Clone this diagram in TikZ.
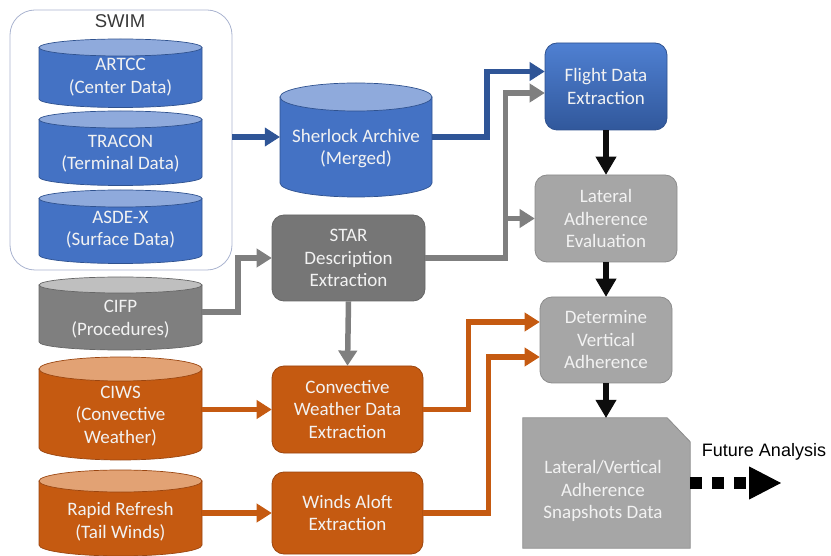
\documentclass[tikz,border=0pt]{standalone}
\usepackage{fontspec}
\setmainfont{Carlito}
\newfontfamily\arialfont{Liberation Sans}
\usetikzlibrary{arrows.meta,calc}

\definecolor{bluebody}{HTML}{4472C4}
\definecolor{bluetop}{HTML}{8FAADC}
\definecolor{blueedge}{HTML}{2F528F}
\definecolor{bluedark}{HTML}{2F5597}
\definecolor{bluelight}{HTML}{4F80D2}
\definecolor{orbody}{HTML}{C55A11}
\definecolor{ortop}{HTML}{E2A274}
\definecolor{oredge}{HTML}{9A4510}
\definecolor{graybody}{HTML}{7F7F7F}
\definecolor{graytop}{HTML}{BFBFBF}
\definecolor{grayedge}{HTML}{666666}
\definecolor{stargray}{HTML}{767676}
\definecolor{lightbox}{HTML}{A6A6A6}
\definecolor{lightedge}{HTML}{8C8C8C}
\definecolor{arrowgray}{HTML}{7F7F7F}
\definecolor{lighttext}{HTML}{F2F2F2}
\definecolor{swimedge}{HTML}{A9B3CF}

\tikzset{
  lbl/.style={font=\fontsize{19}{22.5}\selectfont, text=lighttext, align=center, inner sep=0pt},
  procbox/.style={lbl, rounded corners=12pt, line width=0.8pt},
  flow/.style={line width=5.5pt, line join=miter, -{Triangle[length=15pt,width=19pt,line width=1pt]}},
  blueflow/.style={flow, draw=bluedark},
  grayflow/.style={flow, draw=arrowgray},
  orflow/.style={flow, draw=orbody},
  blackflow/.style={line width=6pt, draw=black!95, -{Triangle[length=18pt,width=21pt,line width=1pt]}},
}

% database cylinder: name, centre x, top y, bottom centre y, x radius, y radius, colour scheme, text y, text
\newcommand\dbcyl[9]{%
  \path[fill=#7body, draw=#7edge, line width=0.7pt]
    (#2-#5,#3+#6) -- (#2-#5,#4)
    arc[start angle=180,end angle=360,x radius=#5pt,y radius=#6pt]
    -- (#2+#5,#3+#6) -- cycle;
  \path[fill=#7top, draw=#7edge, line width=0.7pt] (#2,#3+#6) ellipse[x radius=#5pt,y radius=#6pt];
  \node[lbl, minimum width=2*#5pt] (#1) at (#2,#8) {#9};
}

\begin{document}
\begin{tikzpicture}[x=1pt,y=-1pt]
\useasboundingbox (0,0) rectangle (831,556);

% SWIM group
\node[draw=swimedge, rounded corners=25pt, line width=0.8pt,
      minimum width=222pt, minimum height=260pt] (swim) at (121,140) {};
\node[font=\arialfont\fontsize{18.5}{20}\selectfont, text=black!78] (swimlbl) at (120,21) {SWIM};

\dbcyl{artcc}{120.5}{39}{99}{81.5}{8.5}{blue}{77}{ARTCC\\(Center Data)}
\dbcyl{tracon}{120.5}{111}{177}{81.5}{8.5}{blue}{153.5}{TRACON\\(Terminal Data)}
\dbcyl{asdex}{120.5}{190}{255}{81.5}{8.5}{blue}{229.5}{ASDE-X\\(Surface Data)}

\dbcyl{sher}{356}{83}{183}{76}{14}{blue}{148.5}{Sherlock Archive\\(Merged)}

\dbcyl{cifp}{120.5}{277}{342}{81.5}{8}{gray}{319}{CIFP\\(Procedures)}
\dbcyl{ciws}{120.5}{357}{448}{81.5}{12}{or}{416}{CIWS\\(Convective\\Weather)}
\dbcyl{rapid}{120.5}{470}{545}{81.5}{11}{or}{521.5}{Rapid Refresh\\(Tail Winds)}

% processing steps
\node[procbox, draw=blueedge, top color=bluelight, bottom color=bluedark!90!bluebody,
      minimum width=122pt, minimum height=87pt] (fde) at (606,86.5) {Flight Data\\Extraction};
\node[procbox, draw=lightedge, fill=lightbox,
      minimum width=142pt, minimum height=87pt] (lae) at (606,218.5) {Lateral\\Adherence\\Evaluation};
\node[procbox, draw=lightedge, fill=lightbox,
      minimum width=132pt, minimum height=86pt] (dva) at (606,340) {Determine\\Vertical\\Adherence};
\node[procbox, draw=grayedge, fill=stargray,
      minimum width=153pt, minimum height=86pt] (star) at (348.5,258) {STAR\\Description\\Extraction};
\node[procbox, draw=oredge, fill=orbody,
      minimum width=151pt, minimum height=87pt] (cwe) at (347.5,409.5) {Convective\\Weather Data\\Extraction};
\node[procbox, draw=oredge, fill=orbody,
      minimum width=151pt, minimum height=82pt] (wae) at (347.5,513) {Winds Aloft\\Extraction};

% snapshot data document with clipped corner
\node[minimum width=167pt, minimum height=130pt, inner sep=0pt] (snap) at (606.5,483) {};
\path[fill=lightbox, draw=lightedge, line width=0.8pt]
  (snap.north west) -- ([xshift=-23pt]snap.north east) -- ([yshift=-24pt]snap.north east)
  -- (snap.south east) -- (snap.south west) -- cycle;
\node[lbl] (snaptxt) at (603,491) {Lateral/Vertical\\Adherence\\Snapshots Data};

\node[font=\arialfont\fontsize{18}{20}\selectfont, text=black] (fa) at (764,452) {Future Analysis};
\coordinate (fatip) at (781,483);

% port coordinates
\coordinate (sherL) at ($(sher.west)+(0,-11.5)$);
\coordinate (sherR) at ($(sher.east)+(0,-11.5)$);
\coordinate (fdeA) at ($(fde.west)+(0,-15)$);
\coordinate (fdeB) at ($(fde.west)+(0,6.5)$);
\coordinate (cifpR) at ($(cifp.east)+(0,-7)$);
\coordinate (gjoin) at ($(star.east)+(80,0)$);
\coordinate (dvaA) at ($(dva.west)+(0,-18)$);
\coordinate (dvaB) at ($(dva.west)+(0,17)$);

% connectors
\draw[blueflow] (swim.east |- sherL) -- (sherL);
\draw[blueflow] (sherR) -- ++(55,0) |- (fdeA);
\draw[grayflow] (star.east) -- (gjoin) |- (fdeB);
\draw[grayflow] (gjoin |- lae.west) -- (lae.west);
\draw[grayflow] (cifpR) -- ++(36,0) |- (star.west);
\draw[grayflow] (star.south) -- (cwe.north);
\draw[orflow] (ciws.east |- cwe.west) -- (cwe.west);
\draw[orflow] (rapid.east |- wae.west) -- (wae.west);
\draw[orflow] (cwe.east) -- ++(45,0) |- (dvaA);
\draw[orflow] (wae.east) -- ++(65,0) |- (dvaB);
\draw[blackflow] (fde.south) -- (lae.north);
\draw[blackflow] (lae.south) -- (dva.north);
\draw[blackflow] (dva.south) -- (dva.south |- snap.north);
\draw[line width=12pt, draw=black, dash pattern=on 12pt off 10pt,
      -{Triangle[length=32pt,width=33pt,line width=1pt]}] (snap.east) -- (fatip);
\end{tikzpicture}
\end{document}
